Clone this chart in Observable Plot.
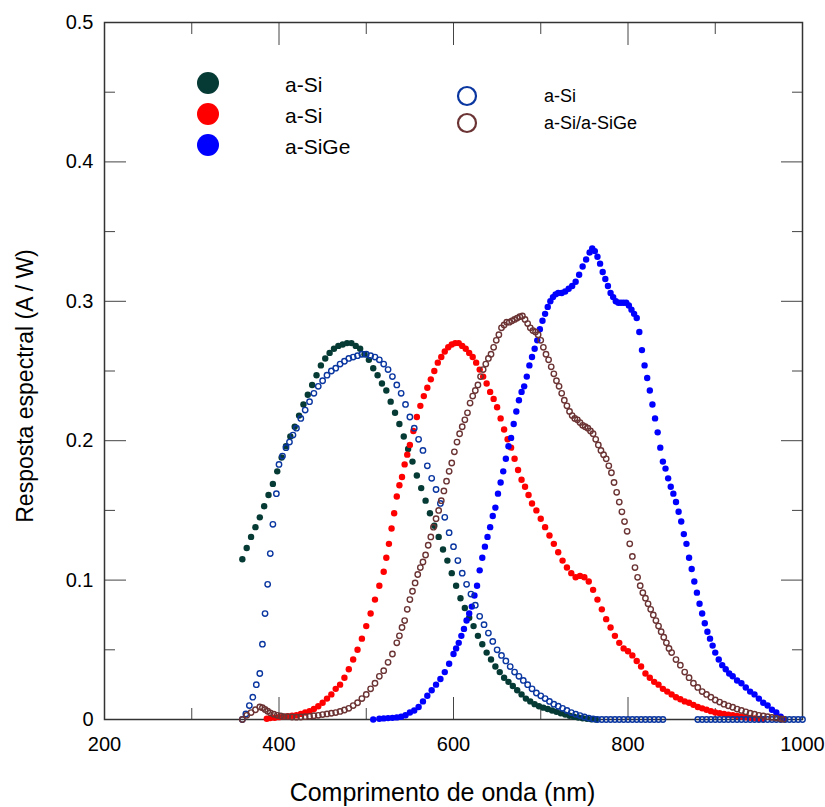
<!DOCTYPE html>
<html><head><meta charset="utf-8">
<script src="https://cdn.jsdelivr.net/npm/d3@7"></script>
<script src="https://cdn.jsdelivr.net/npm/@observablehq/plot@0.6"></script>
<style>body{margin:0;background:#fff} #wrap{position:relative;width:825px;height:807px}</style>
</head><body><div id="wrap"></div>
<script>
// axis ticks
const xTicks = [200, 400, 600, 800, 1000];
const xMajor = [400, 600, 800];
const xMinor = [300, 500, 700, 900];
const yTicks = [0, 0.1, 0.2, 0.3, 0.4, 0.5];
const yMajor = [0.1, 0.2, 0.3, 0.4];
const yMinor = [0.05, 0.15, 0.25, 0.35, 0.45];
const xTitle = "Comprimento de onda (nm)";
const yTitle = "Resposta espectral (A / W)";

// legend
const filledLabels = ["a-Si", "a-Si", "a-SiGe"];
const filledColors = ["#063a34", "#ff0000", "#0000ff"];
const openLabels = ["a-Si", "a-Si/a-SiGe"];
const openColors = ["#0a36a0", "#6b3333"];

// series: [wavelength nm, response A/W]
const aSiDark = [[358,0.115],[363,0.123],[368,0.131],[373,0.138],[378,0.145],[383,0.153],[388,0.161],[393,0.169],[398,0.178],[403,0.188],
[408,0.196],[413,0.203],[418,0.210],[423,0.218],[428,0.226],[433,0.233],[438,0.240],[443,0.247],[448,0.254],[453,0.259],
[458,0.263],[463,0.266],[468,0.268],[473,0.269],[478,0.270],[483,0.270],[488,0.268],[493,0.266],[498,0.262],[503,0.258],
[508,0.252],[513,0.247],[518,0.241],[523,0.236],[528,0.228],[533,0.220],[538,0.212],[543,0.203],[548,0.194],[553,0.185],
[558,0.175],[563,0.166],[568,0.157],[573,0.148],[578,0.139],[583,0.131],[588,0.122],[593,0.114],[598,0.105],[603,0.096],
[608,0.087],[613,0.080],[618,0.073],[623,0.067],[628,0.060],[633,0.054],[638,0.048],[643,0.043],[648,0.038],[653,0.034],
[658,0.030],[663,0.027],[668,0.024],[673,0.021],[678,0.018],[683,0.015],[688,0.013],[693,0.011],[698,0.0095],[703,0.0085],
[708,0.0075],[713,0.0065],[718,0.0055],[723,0.0045],[728,0.0035],[733,0.0027],[738,0.002],[743,0.0014],[748,0.0009],[753,0.0005],
[758,0.0002],[763,0]];

const aSiRed = [[386,0.0005],[390,0.001],[395,0.0013],[400,0.0017],[405,0.002],[410,0.0023],[415,0.0027],[420,0.003],[425,0.004],[430,0.005],
[435,0.006],[440,0.0075],[445,0.0095],[450,0.012],[455,0.015],[460,0.018],[465,0.022],[470,0.025],[475,0.030],[480,0.036],
[485,0.043],[490,0.050],[495,0.058],[500,0.067],[505,0.076],[510,0.086],[515,0.096],[520,0.106],[523,0.116],[526,0.126],
[529,0.137],[532,0.148],[535,0.160],[538,0.168],[541,0.174],[544,0.183],[547,0.190],[550,0.197],[554,0.207],[558,0.217],
[562,0.225],[566,0.232],[570,0.238],[574,0.244],[578,0.250],[582,0.256],[586,0.260],[590,0.264],[594,0.267],[598,0.269],
[602,0.270],[606,0.270],[610,0.268],[614,0.266],[618,0.263],[622,0.260],[626,0.256],[630,0.251],[634,0.246],[638,0.241],
[642,0.235],[646,0.230],[650,0.224],[654,0.216],[658,0.208],[662,0.201],[666,0.195],[670,0.187],[674,0.179],[678,0.172],
[682,0.167],[686,0.161],[690,0.155],[695,0.150],[700,0.144],[705,0.138],[710,0.132],[715,0.126],[720,0.120],[725,0.114],
[730,0.109],[735,0.105],[740,0.102],[745,0.103],[750,0.102],[755,0.099],[760,0.093],[765,0.086],[770,0.079],[775,0.072],
[780,0.066],[785,0.060],[790,0.055],[795,0.051],[800,0.049],[805,0.046],[810,0.042],[815,0.038],[820,0.033],[825,0.030],
[830,0.027],[835,0.025],[840,0.022],[845,0.020],[850,0.018],[855,0.016],[860,0.0145],[865,0.013],[870,0.012],[875,0.0105],
[880,0.009],[885,0.008],[890,0.007],[895,0.006],[900,0.005],[905,0.0045],[910,0.004],[915,0.0035],[920,0.003],[925,0.0025],
[930,0.002],[935,0.0016],[940,0.0012],[945,0.0008],[950,0.0004],[955,0.0001]];

const aSiGeBlue = [[508,0],[515,0.0005],[520,0.0008],[525,0.001],[530,0.0012],[535,0.0015],[540,0.002],[545,0.003],[550,0.005],[555,0.0065],
[560,0.009],[565,0.013],[570,0.017],[575,0.021],[580,0.025],[585,0.029],[590,0.034],[595,0.040],[600,0.047],[603,0.051],
[606,0.055],[609,0.060],[612,0.065],[615,0.071],[618,0.076],[621,0.081],[624,0.089],[627,0.096],[630,0.107],[633,0.116],
[636,0.124],[639,0.131],[642,0.138],[645,0.146],[648,0.152],[651,0.162],[654,0.170],[657,0.178],[660,0.187],[663,0.196],
[666,0.202],[669,0.212],[672,0.221],[675,0.229],[678,0.235],[681,0.239],[684,0.246],[687,0.254],[690,0.260],[693,0.266],
[696,0.272],[699,0.280],[702,0.286],[705,0.291],[708,0.296],[711,0.300],[714,0.303],[717,0.305],[720,0.306],[724,0.306],
[728,0.307],[732,0.309],[736,0.311],[740,0.314],[744,0.319],[748,0.325],[752,0.330],[756,0.335],[759,0.338],[762,0.336],
[765,0.332],[768,0.327],[771,0.321],[774,0.316],[777,0.311],[780,0.306],[783,0.303],[786,0.300],[789,0.299],[792,0.299],
[795,0.299],[798,0.299],[801,0.297],[804,0.294],[807,0.291],[810,0.288],[813,0.278],[816,0.265],[819,0.254],[822,0.245],
[825,0.236],[828,0.226],[831,0.216],[834,0.206],[837,0.195],[840,0.185],[843,0.180],[846,0.173],[849,0.167],[852,0.162],
[855,0.156],[858,0.149],[861,0.142],[864,0.133],[867,0.126],[870,0.116],[873,0.108],[876,0.099],[879,0.091],[882,0.083],
[885,0.076],[888,0.069],[891,0.063],[894,0.058],[897,0.053],[900,0.048],[904,0.043],[908,0.039],[912,0.036],[916,0.033],
[920,0.031],[925,0.028],[930,0.026],[935,0.023],[940,0.020],[945,0.018],[950,0.015],[955,0.012],[960,0.010],[965,0.007],
[970,0.005],[975,0.002],[979,0.0003]];

const aSiOpen = [[358,0],[362,0.004],[366,0.010],[370,0.016],[374,0.025],[378,0.033],[381,0.054],[384,0.076],[387,0.097],[390,0.119],
[393,0.140],[397,0.162],[400,0.183],[404,0.189],[408,0.195],[412,0.199],[416,0.204],[420,0.209],[425,0.216],[430,0.222],
[435,0.228],[440,0.234],[445,0.239],[450,0.243],[455,0.247],[460,0.250],[465,0.252],[470,0.255],[475,0.257],[480,0.259],
[485,0.260],[490,0.261],[495,0.262],[500,0.262],[505,0.261],[510,0.260],[515,0.258],[520,0.255],[525,0.251],[530,0.246],
[535,0.240],[540,0.234],[545,0.226],[550,0.217],[555,0.209],[560,0.201],[565,0.193],[570,0.182],[575,0.173],[580,0.165],
[585,0.155],[590,0.145],[595,0.134],[600,0.124],[605,0.114],[610,0.105],[615,0.097],[620,0.090],[625,0.082],[630,0.074],
[635,0.068],[640,0.062],[645,0.056],[650,0.050],[655,0.046],[660,0.042],[665,0.038],[670,0.034],[675,0.031],[680,0.028],
[685,0.025],[690,0.022],[695,0.019],[700,0.017],[705,0.015],[710,0.013],[715,0.011],[720,0.0095],[725,0.008],[730,0.0065],
[735,0.005],[740,0.0038],[745,0.0028],[750,0.0018],[755,0.001],[760,0.0004],[765,0],[770,0],[775,0],[780,0],
[785,0],[790,0],[795,0],[800,0],[805,0],[810,0],[815,0],[820,0],[825,0],[830,0],
[835,0],[840,0],[880,0],[885,0],[890,0],[895,0],[900,0],[905,0],[910,0],[915,0],
[920,0],[925,0],[930,0],[935,0],[940,0],[945,0],[950,0],[955,0],[960,0],[965,0],
[970,0],[975,0],[980,0],[985,0],[990,0],[995,0],[1000,0]];

const aSiaSiGeOpen = [[358,0],[363,0.003],[368,0.005],[373,0.007],[378,0.009],[381,0.0085],[384,0.0072],[387,0.006],[390,0.0048],[394,0.0038],
[398,0.003],[402,0.0025],[406,0.002],[410,0.002],[415,0.0018],[420,0.0017],[425,0.0018],[430,0.002],[435,0.0023],[440,0.0027],
[445,0.003],[450,0.0035],[455,0.004],[460,0.0045],[465,0.005],[470,0.0058],[475,0.0068],[480,0.008],[485,0.010],[490,0.012],
[495,0.015],[500,0.018],[505,0.022],[510,0.026],[515,0.031],[520,0.035],[525,0.041],[530,0.047],[535,0.055],[538,0.060],
[541,0.066],[544,0.071],[547,0.079],[550,0.086],[553,0.092],[556,0.098],[559,0.104],[562,0.109],[565,0.113],[568,0.118],
[571,0.125],[574,0.131],[577,0.138],[580,0.144],[583,0.150],[586,0.157],[589,0.164],[592,0.171],[595,0.178],[598,0.184],
[601,0.192],[604,0.199],[607,0.205],[610,0.210],[613,0.215],[616,0.220],[619,0.227],[622,0.232],[625,0.236],[628,0.240],
[631,0.246],[634,0.251],[637,0.255],[640,0.259],[643,0.262],[646,0.267],[649,0.272],[652,0.276],[655,0.281],[658,0.283],
[661,0.285],[664,0.285],[667,0.286],[670,0.287],[673,0.288],[676,0.289],[679,0.2895],[682,0.287],[685,0.284],[688,0.281],
[691,0.279],[694,0.278],[697,0.276],[700,0.272],[703,0.267],[706,0.262],[709,0.258],[712,0.253],[715,0.248],[718,0.243],
[721,0.239],[724,0.234],[727,0.229],[730,0.225],[733,0.221],[736,0.218],[739,0.216],[742,0.215],[745,0.213],[748,0.211],
[751,0.210],[754,0.209],[757,0.207],[760,0.205],[763,0.201],[766,0.197],[769,0.193],[772,0.190],[775,0.187],[778,0.182],
[781,0.177],[784,0.170],[787,0.163],[790,0.156],[793,0.149],[796,0.142],[799,0.135],[802,0.126],[805,0.117],[808,0.109],
[811,0.102],[814,0.096],[817,0.091],[820,0.087],[823,0.083],[826,0.079],[829,0.075],[832,0.071],[835,0.067],[838,0.063],
[841,0.059],[844,0.055],[847,0.051],[850,0.048],[855,0.043],[860,0.039],[865,0.034],[870,0.030],[875,0.026],[880,0.023],
[885,0.020],[890,0.018],[895,0.016],[900,0.014],[905,0.0125],[910,0.011],[915,0.0098],[920,0.0088],[925,0.0075],[930,0.0065],
[935,0.0055],[940,0.0045],[945,0.0038],[950,0.003],[955,0.0025],[960,0.002],[965,0.0015],[970,0.001],[975,0.0005],[978,0.0002]];

const font = "'Liberation Sans', Arial, Helvetica, sans-serif";
const tickStroke = "#444";
const X = d => d[0], Y = d => d[1];

function inwardTicksX(anchor) {
  return [
    Plot.axisX({anchor, ticks: xMajor, tickSize: -22, fill: "none", stroke: tickStroke, label: null}),
    Plot.axisX({anchor, ticks: xMinor, tickSize: -11, fill: "none", stroke: tickStroke, label: null})
  ];
}
function inwardTicksY(anchor) {
  return [
    Plot.axisY({anchor, ticks: yMajor, tickSize: -22, fill: "none", stroke: tickStroke, label: null}),
    Plot.axisY({anchor, ticks: yMinor, tickSize: -11, fill: "none", stroke: tickStroke, label: null})
  ];
}

const chart = Plot.plot({
  width: 825, height: 807,
  marginLeft: 104, marginRight: 23, marginTop: 22, marginBottom: 88,
  style: {fontFamily: font, background: "#fff", color: "#000"},
  x: {domain: [200, 1000]},
  y: {domain: [0, 0.5]},
  marks: [
    Plot.axisX({anchor: "bottom", ticks: xTicks, tickSize: 0, tickPadding: 17, fontSize: 20, label: null, tickFormat: d => String(d)}),
    Plot.axisY({anchor: "left", ticks: yTicks, tickSize: 0, tickPadding: 11, fontSize: 20, label: null, tickFormat: d => String(d)}),
    ...inwardTicksX("bottom"), ...inwardTicksX("top"),
    ...inwardTicksY("left"), ...inwardTicksY("right"),
    Plot.frame({stroke: "#333", strokeWidth: 1.5}),
    Plot.text([xTitle], {frameAnchor: "bottom", dy: 73, dx: -11, lineAnchor: "middle", textAnchor: "middle", fontSize: 25, fill: "#000"}),
    Plot.text([yTitle], {frameAnchor: "left", dx: -79, dy: 15, rotate: -90, lineAnchor: "middle", textAnchor: "middle", fontSize: 23, fill: "#000"}),
    Plot.dot(aSiDark, {x: X, y: Y, r: 3.2, fill: filledColors[0]}),
    Plot.dot(aSiRed, {x: X, y: Y, r: 3.2, fill: filledColors[1]}),
    Plot.dot(aSiGeBlue, {x: X, y: Y, r: 3.2, fill: filledColors[2]}),
    Plot.dot(aSiOpen, {x: X, y: Y, r: 2.7, stroke: openColors[0], strokeWidth: 1.4, fill: "none"}),
    Plot.dot(aSiaSiGeOpen, {x: X, y: Y, r: 2.7, stroke: openColors[1], strokeWidth: 1.4, fill: "none"})
  ]
});
const wrap = document.getElementById("wrap");
wrap.appendChild(chart);

// legend overlay
const lg = d3.select(wrap).append("svg")
  .attr("width", 825).attr("height", 807)
  .style("position", "absolute").style("left", "0px").style("top", "0px")
  .style("font-family", font);
filledLabels.forEach((t, i) => {
  const cy = 83 + i * 31;
  lg.append("circle").attr("cx", 208).attr("cy", cy).attr("r", 11).attr("fill", filledColors[i]);
  lg.append("text").attr("x", 285).attr("y", cy + 9).attr("font-size", 21).text(t);
});
openLabels.forEach((t, i) => {
  const cy = 96 + i * 27;
  lg.append("circle").attr("cx", 467).attr("cy", cy).attr("r", 9).attr("fill", "none")
    .attr("stroke", openColors[i]).attr("stroke-width", 2.2);
  lg.append("text").attr("x", 544).attr("y", cy + 6).attr("font-size", 18).text(t);
});
</script>
</body></html>
